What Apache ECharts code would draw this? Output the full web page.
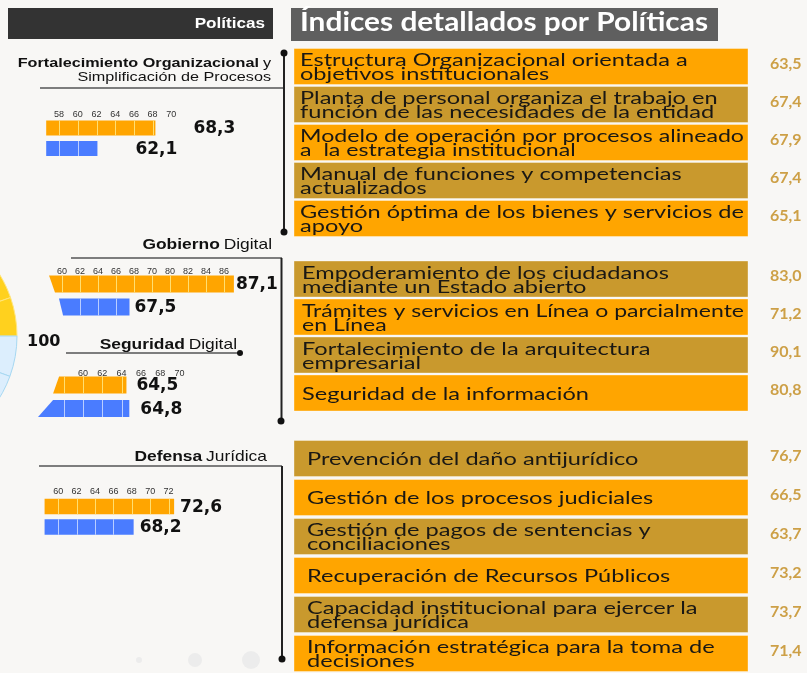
<!DOCTYPE html>
<html><head><meta charset="utf-8">
<script src="https://cdn.jsdelivr.net/npm/echarts@6/dist/echarts.min.js"></script>
<style>html,body{margin:0;padding:0;background:#F8F7F5}#c{width:807px;height:673px}</style>
</head><body><div id="c"></div>
<script>
// ---------------- data ----------------
const fortTicks = [58, 60, 62, 64, 66, 68, 70];
const fortValues = [68.3, 62.1];
const gobTicks = [60, 62, 64, 66, 68, 70, 80, 82, 84, 86];
const gobValues = [87.1, 67.5];
const segTicks = [60, 62, 64, 66, 68, 70];
const segValues = [64.5, 64.8];
const defTicks = [60, 62, 64, 66, 68, 70, 72];
const defValues = [72.6, 68.2];
const barSeries = ['Serie naranja', 'Serie azul'];

const fortItems = [
  'Estructura Organizacional orientada a\nobjetivos institucionales',
  'Planta de personal organiza el trabajo en\nfunción de las necesidades de la entidad',
  'Modelo de operación por procesos alineado\na  la estrategia institucional',
  'Manual de funciones y competencias\nactualizados',
  'Gestión óptima de los bienes y servicios de\napoyo'
];
const fortScores = [63.5, 67.4, 67.9, 67.4, 65.1];
const digItems = [
  'Empoderamiento de los ciudadanos\nmediante un Estado abierto',
  'Trámites y servicios en Línea o parcialmente\nen Línea',
  'Fortalecimiento de la arquitectura\nempresarial',
  'Seguridad de la información'
];
const digScores = [83.0, 71.2, 90.1, 80.8];
const defItems = [
  'Prevención del daño antijurídico',
  'Gestión de los procesos judiciales',
  'Gestión de pagos de sentencias y\nconciliaciones',
  'Recuperación de Recursos Públicos',
  'Capacidad institucional para ejercer la\ndefensa jurídica',
  'Información estratégica para la toma de\ndecisiones'
];
const defScores = [76.7, 66.5, 63.7, 73.2, 73.7, 71.4];

const gaugeSlices = [71, 19, 20, 70, 180];
const gaugeLabel = '100';

// ---------------- helpers ----------------
const fmt = v => v.toFixed(1).replace('.', ',');
function toIdx(v, t) {
  const n = t.length;
  if (v <= t[0]) return (v - t[0]) / (t[1] - t[0]);
  for (let i = 0; i < n - 1; i++) {
    if (v <= t[i + 1]) return i + (v - t[i]) / (t[i + 1] - t[i]);
  }
  return n - 1 + (v - t[n - 1]) / (t[n - 1] - t[n - 2]);
}
const mctx = document.createElement('canvas').getContext('2d');
function measure(str, font) { mctx.font = font; return mctx.measureText(str).width; }

const BOX_FONT = 'Lato';
const BOX_FONT_CSS = '18px ' + BOX_FONT;
// calibration of horizontal stretch of the box text (layout only)
const widthRefs = [
  ['Planta de personal organiza el trabajo en', 430],
  ['Modelo de operación por procesos alineado', 442],
  ['Trámites y servicios en Línea o parcialmente', 444],
  ['Gestión óptima de los bienes y servicios de', 438],
  ['Estructura Organizacional orientada a', 412],
  ['Empoderamiento de los ciudadanos', 367],
  ['Información estratégica para la toma de', 404],
  ['Recuperación de Recursos Públicos', 355]
];
let sumT = 0, sumM = 0;
widthRefs.forEach(([s, w]) => { sumT += w; sumM += measure(s, BOX_FONT_CSS); });
const boxScale = sumT / sumM;
const titleText = 'Índices detallados por Políticas';
const titleScale = 408 / measure(titleText, 'bold 26px ' + BOX_FONT);

const ORANGE = '#FFA500', GOLD = '#C9992D', BLUE = '#4A7CFF';

// ---------------- layout ----------------
const panels = [
  {ticks: fortTicks, values: fortValues, x0: 53.5, sp: 19.5, top: 117.75, band: 20.5, thick: 15, labelMargin: -1,
   slant: [[-0.69, -0.69], [-0.69, -0.69]], offs: [38, 38]},
  {ticks: gobTicks, values: gobValues, x0: 62, sp: 18, top: 272.5, band: 23, thick: 17, labelMargin: -4,
   slant: [[-0.72, -0.39], [-0.17, 0.06]], offs: [2, 5]},
  {ticks: segTicks, values: segValues, x0: 83, sp: 19.3, top: 373.25, band: 23.5, thick: 17, labelMargin: -5,
   slant: [[-1.24, -1.55], [-1.55, -2.33]], offs: [10, 11]},
  {ticks: defTicks, values: defValues, x0: 54, sp: 19, top: 496.25, band: 20.5, thick: 15.5, labelMargin: 0,
   slant: [[-0.74, -0.74], [-0.74, -0.74]], offs: [6, 6]}
];
const groups = [
  {items: fortItems, scores: fortScores, top: 47.5, band: 38, pad: 6, startGold: false},
  {items: digItems, scores: digScores, top: 260, band: 38, pad: 8, startGold: true},
  {items: defItems, scores: defScores, top: 439, band: 40.5, pad: 13, startGold: true}
];

const grids = [], xAxes = [], yAxes = [], series = [];

panels.forEach((p, gi) => {
  const n = p.ticks.length;
  grids.push({left: p.x0 - 3 * p.sp, top: p.top, width: (n + 3) * p.sp, height: 2 * p.band, containLabel: false});
  xAxes.push({gridIndex: gi, type: 'value', min: -3, max: n, interval: 1, position: 'top',
    axisLine: {show: false}, axisTick: {show: false}, splitLine: {show: false},
    axisLabel: {show: true, interval: 0, margin: p.labelMargin, fontSize: 9, color: '#333', fontFamily: 'Liberation Sans',
      showMinLabel: true, showMaxLabel: true,
      formatter: v => (v >= 0 && v < n && Number.isInteger(v)) ? String(p.ticks[v]) : ''}});
  yAxes.push({gridIndex: gi, type: 'category', data: barSeries, inverse: true, show: false});
  series.push({
    type: 'custom', xAxisIndex: gi, yAxisIndex: gi, silent: true,
    data: p.values.map((v, i) => [toIdx(v, p.ticks), i, v]),
    renderItem: (params, api) => {
      const i = params.dataIndex;
      const cat = api.value(1), v = api.value(2);
      const c = api.coord([api.value(0), cat]);
      const xe = c[0], yc = c[1], yt = yc - p.thick / 2, yb = yc + p.thick / 2;
      const xt = api.coord([p.slant[i][0], cat])[0];
      const xb = api.coord([p.slant[i][1], cat])[0];
      const children = [{type: 'polygon', shape: {points: [[xt, yt], [xe, yt], [xe, yb], [xb, yb]]},
        style: {fill: i === 0 ? ORANGE : BLUE}}];
      const left = Math.max(xt, xb);
      for (let k = -3; k <= p.ticks.length; k++) {
        const x = Math.round(api.coord([k, cat])[0]) + 0.5;
        if (x > left + 2 && x < xe - 1.5) {
          children.push({type: 'line', shape: {x1: x, y1: yt, x2: x, y2: yb},
            style: {stroke: i === 0 ? 'rgba(255,226,120,0.95)' : 'rgba(200,215,255,0.9)', lineWidth: 1}});
        }
      }
      children.push({type: 'text', style: {text: fmt(v), x: xe + p.offs[i], y: yc + 1, verticalAlign: 'middle', align: 'left',
        fontFamily: 'DejaVu Sans', fontWeight: 'bold', fontSize: 17, fill: '#111'}});
      return {type: 'group', children};
    }
  });
});

groups.forEach((g, k) => {
  const gi = panels.length + k;
  grids.push({left: 294, right: 59, top: g.top, height: g.band * g.items.length});
  xAxes.push({gridIndex: gi, type: 'value', min: 0, max: 100, show: false});
  yAxes.push({gridIndex: gi, type: 'category', data: g.items, inverse: true, show: false});
  series.push({
    type: 'custom', xAxisIndex: gi, yAxisIndex: gi, silent: true,
    data: g.scores.map((s, i) => [s, i]),
    renderItem: (params, api) => {
      const i = params.dataIndex;
      const cs = params.coordSys;
      const c = api.coord([0, api.value(1)]);
      const yc = c[1], h = 36;
      const gold = (i % 2 === 0) === g.startGold;
      const maxLine = Math.max(...g.items[i].split('\n').map(s => measure(s, BOX_FONT_CSS)));
      const sc = Math.min(boxScale, (cs.width - g.pad - 4) / maxLine);
      return {type: 'group', children: [
        {type: 'rect', shape: {x: cs.x, y: yc - h / 2, width: cs.width, height: h},
          style: {fill: gold ? GOLD : ORANGE, stroke: 'rgba(255,255,255,0.35)', lineWidth: 1}},
        {type: 'text', x: cs.x + g.pad, y: yc + 1, scaleX: sc,
          style: {text: g.items[i], x: 0, y: 0, fontFamily: BOX_FONT, fontSize: 18, lineHeight: 14,
            fill: '#1a1814', verticalAlign: 'middle', align: 'left'}},
        {type: 'text', style: {text: fmt(api.value(0)), x: cs.x + cs.width + 22, y: yc - 3,
          fontFamily: BOX_FONT, fontWeight: 'bold', fontSize: 16, fill: '#CDA047', verticalAlign: 'middle', align: 'left'}}
      ]};
    }
  });
});

series.push({
  type: 'pie', center: [-101, 336], radius: 118, startAngle: 90, clockwise: true, silent: true,
  label: {show: false}, labelLine: {show: false},
  data: gaugeSlices.map((v, i) => ({value: v, name: 'S' + i,
    itemStyle: {color: i < 2 ? '#FFD11E' : '#DCEEFD', borderColor: i < 2 ? '#FFE680' : '#A6D8F2', borderWidth: 1}}))
});

function hdr(bold, normal, right, y, size, sx) {
  return {type: 'text', x: right, y: y, scaleX: sx, style: {text: '{b|' + bold + '}' + (normal ? ' {n|' + normal + '}' : ''),
    x: 0, y: 0, align: 'right', verticalAlign: 'middle',
    rich: {b: {fontFamily: 'Liberation Sans', fontWeight: 'bold', fontSize: size, fill: '#111', color: '#111'},
           n: {fontFamily: 'Liberation Sans', fontSize: size, fill: '#111', color: '#111'}}}};
}
const LINE = '#222', ULINE = '#555';
const graphic = [
  {type: 'rect', shape: {x: 8, y: 8, width: 265, height: 31}, style: {fill: '#333333'}},
  {type: 'text', x: 265, y: 24, scaleX: 1.14, style: {text: 'Políticas', x: 0, y: 0, align: 'right', verticalAlign: 'middle',
    fontFamily: 'Liberation Sans', fontWeight: 'bold', fontSize: 15, fill: '#fff'}},
  {type: 'rect', shape: {x: 291, y: 8, width: 427, height: 33}, style: {fill: '#5F5F5F'}},
  {type: 'text', x: 300, y: 23, scaleX: titleScale, style: {text: titleText, x: 0, y: 0, align: 'left', verticalAlign: 'middle',
    fontFamily: BOX_FONT, fontWeight: 'bold', fontSize: 26, fill: '#fff'}},
  hdr('Fortalecimiento Organizacional', 'y', 271, 63, 13.5, 1.2),
  {type: 'text', x: 271, y: 77, scaleX: 1.2, style: {text: 'Simplificación de Procesos', x: 0, y: 0, align: 'right', verticalAlign: 'middle',
    fontFamily: 'Liberation Sans', fontSize: 13.5, fill: '#111'}},
  hdr('Gobierno', 'Digital', 272, 245, 15, 1.16),
  hdr('Seguridad', 'Digital', 237, 345, 15, 1.16),
  hdr('Defensa', 'Jurídica', 267, 457, 15, 1.16),
  {type: 'line', shape: {x1: 40, y1: 88, x2: 284, y2: 88}, style: {stroke: ULINE, lineWidth: 1.5}},
  {type: 'line', shape: {x1: 284, y1: 53, x2: 284, y2: 232}, style: {stroke: LINE, lineWidth: 2}},
  {type: 'circle', shape: {cx: 284, cy: 53, r: 3.5}, style: {fill: '#111'}},
  {type: 'circle', shape: {cx: 284, cy: 232, r: 3.5}, style: {fill: '#111'}},
  {type: 'line', shape: {x1: 71, y1: 258, x2: 282, y2: 258}, style: {stroke: ULINE, lineWidth: 1.5}},
  {type: 'line', shape: {x1: 281.5, y1: 258, x2: 281.5, y2: 421}, style: {stroke: LINE, lineWidth: 2}},
  {type: 'circle', shape: {cx: 281, cy: 421, r: 3.5}, style: {fill: '#111'}},
  {type: 'line', shape: {x1: 66, y1: 353, x2: 240, y2: 353}, style: {stroke: ULINE, lineWidth: 1.5}},
  {type: 'circle', shape: {cx: 240, cy: 353, r: 3}, style: {fill: '#111'}},
  {type: 'line', shape: {x1: 39, y1: 466, x2: 282, y2: 466}, style: {stroke: ULINE, lineWidth: 1.5}},
  {type: 'line', shape: {x1: 282, y1: 466, x2: 282, y2: 659}, style: {stroke: LINE, lineWidth: 2}},
  {type: 'circle', shape: {cx: 282, cy: 659, r: 3.5}, style: {fill: '#111'}},
  {type: 'text', x: 27, y: 342, style: {text: gaugeLabel, align: 'left', verticalAlign: 'middle',
    fontFamily: 'DejaVu Sans', fontWeight: 'bold', fontSize: 16, fill: '#111'}},
  {type: 'circle', shape: {cx: 195, cy: 660, r: 7}, style: {fill: '#ececec'}, z: -1},
  {type: 'circle', shape: {cx: 251, cy: 660, r: 9}, style: {fill: '#ececec'}, z: -1},
  {type: 'circle', shape: {cx: 139, cy: 660, r: 3}, style: {fill: '#ececec'}, z: -1}
];

const chart = echarts.init(document.getElementById('c'), null, {renderer: 'canvas'});
chart.setOption({
  backgroundColor: '#F8F7F5',
  animation: false,
  grid: grids, xAxis: xAxes, yAxis: yAxes, series: series, graphic: graphic
});
</script></body></html>
